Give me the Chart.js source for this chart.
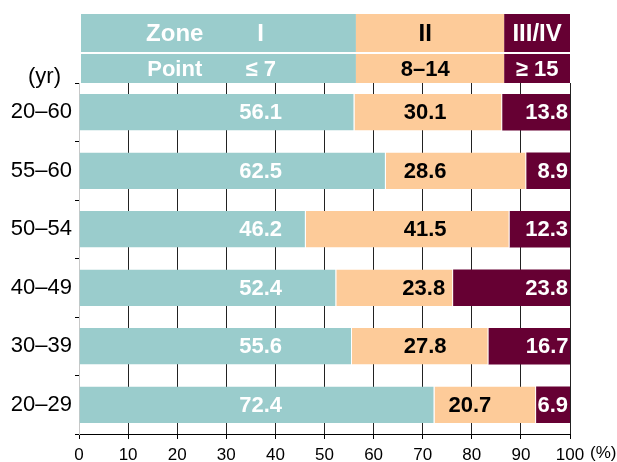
<!DOCTYPE html>
<html>
<head>
<meta charset="utf-8">
<script src="https://cdn.jsdelivr.net/npm/chart.js@4.4.1/dist/chart.umd.min.js"></script>
<style>
  html, body { margin: 0; padding: 0; background: #fff; }
  #wrap { width: 617px; height: 462px; }
</style>
</head>
<body>
<div id="wrap"><canvas id="zoneChart" width="617" height="462"></canvas></div>
<script>
// age groups (top to bottom)
const categories = ["20–60", "55–60", "50–54", "40–49", "30–39", "20–29"];
// share of each zone, %
const zoneI = [56.1, 62.5, 46.2, 52.4, 55.6, 72.4];
const zoneII = [30.1, 28.6, 41.5, 23.8, 27.8, 20.7];
const zoneIIIIV = [13.8, 8.9, 12.3, 23.8, 16.7, 6.9];

// header bands
const zoneNames = ["I", "II", "III/IV"];
const pointRanges = ["≤ 7", "8–14", "≥ 15"];
const zoneBounds = [56.4, 86.6, 100]; // right edge of each header band, %
const labelAnchors = [37, 70.5, 93.3]; // column where zone labels sit, %
const rowTitleAnchor = 19.5;

const xMin = 0, xMax = 100, xStep = 10;

const colors = ["#9acccc", "#fdcb99", "#660033"];
const textColors = ["#ffffff", "#000000", "#ffffff"];
const FONT = '"Liberation Sans", Arial, Helvetica, sans-serif';

// header rows above the plot
const headerPlugin = {
  id: "zoneHeader",
  afterDraw(chart) {
    const ctx = chart.ctx;
    const xs = chart.scales.x;
    const top = chart.chartArea.top;
    const left = xs.getPixelForValue(0) + 2;
    const rows = [
      { y: top - 69, h: 38, title: "Zone", items: zoneNames, size: 24 },
      { y: top - 29, h: 29, title: "Point", items: pointRanges, size: 22 },
    ];
    ctx.save();
    rows.forEach((row) => {
      let prev = left;
      zoneBounds.forEach((b, i) => {
        const x1 = xs.getPixelForValue(b);
        ctx.fillStyle = colors[i];
        ctx.fillRect(prev, row.y, x1 - prev, row.h);
        prev = x1;
      });
      ctx.font = "bold " + row.size + "px " + FONT;
      ctx.textAlign = "center";
      ctx.textBaseline = "middle";
      const cy = row.y + row.h / 2 + 1;
      ctx.fillStyle = "#fff";
      ctx.fillText(row.title, xs.getPixelForValue(rowTitleAnchor), cy);
      row.items.forEach((t, i) => {
        ctx.fillStyle = textColors[i];
        ctx.fillText(t, xs.getPixelForValue(labelAnchors[i]), cy);
      });
    });

    // (yr) and (%) captions
    ctx.fillStyle = "#000";
    ctx.font = "22px " + FONT;
    ctx.textAlign = "right";
    ctx.textBaseline = "middle";
    ctx.fillText("(yr)", 61, top - 6);
    ctx.font = "17px " + FONT;
    ctx.textAlign = "left";
    ctx.textBaseline = "top";
    ctx.fillText("(%)", xs.getPixelForValue(100) + 20, xs.top + 11);
    ctx.restore();
  },
};

// value labels inside the bar segments
const valuePlugin = {
  id: "segValues",
  afterDatasetsDraw(chart) {
    const ctx = chart.ctx;
    const xs = chart.scales.x;
    ctx.save();
    ctx.font = "bold 22px " + FONT;
    ctx.textAlign = "center";
    ctx.textBaseline = "middle";
    chart.data.datasets.forEach((ds, i) => {
      chart.getDatasetMeta(i).data.forEach((bar, j) => {
        const txt = ds.data[j].toFixed(1);
        const w = ctx.measureText(txt).width;
        const start = Math.min(bar.base, bar.x);
        const end = Math.max(bar.base, bar.x);
        let cx;
        if (i === 2) {
          cx = end - 2 - w / 2;
        } else {
          cx = xs.getPixelForValue(labelAnchors[i]);
          cx = Math.max(cx, start + 14 + w / 2);
          cx = Math.min(cx, end - 8 - w / 2);
        }
        ctx.fillStyle = textColors[i];
        ctx.fillText(txt, cx, bar.y + 1);
      });
    });
    ctx.restore();
  },
};

const sepBorder = { top: 0, right: 1, bottom: 0, left: 0 };

new Chart(document.getElementById("zoneChart"), {
  type: "bar",
  data: {
    labels: categories,
    datasets: [
      { label: "I", data: zoneI, backgroundColor: colors[0], borderColor: "#fff", borderWidth: sepBorder, borderSkipped: false },
      { label: "II", data: zoneII, backgroundColor: colors[1], borderColor: "#fff", borderWidth: sepBorder, borderSkipped: false },
      { label: "III/IV", data: zoneIIIIV, backgroundColor: colors[2], borderWidth: 0 },
    ],
  },
  options: {
    indexAxis: "y",
    responsive: false,
    devicePixelRatio: 1,
    animation: false,
    barPercentage: 0.62,
    categoryPercentage: 1.0,
    layout: { padding: { top: 83, right: 47, bottom: 0, left: 0 } },
    plugins: {
      legend: { display: false },
      tooltip: { enabled: false },
    },
    scales: {
      x: {
        stacked: true,
        min: xMin,
        max: xMax,
        afterFit: (s) => { s.height = 28; },
        ticks: {
          stepSize: xStep,
          color: "#000",
          padding: 6,
          maxRotation: 0,
          font: { family: FONT, size: 17 },
        },
        grid: {
          color: (c) => (c.tick && c.tick.value === 0 ? "#c8c8c8" : "#222"),
          tickColor: "#000",
          lineWidth: 1,
          tickLength: 5,
        },
        border: { color: "#000", width: 1 },
      },
      y: {
        stacked: true,
        afterFit: (s) => { s.width = 79; },
        ticks: {
          color: "#000",
          padding: 3,
          font: { family: FONT, size: 22 },
        },
        grid: {
          drawOnChartArea: false,
          color: "#000",
          tickLength: 4,
        },
        border: { color: "#c8c8c8", width: 1 },
      },
    },
  },
  plugins: [headerPlugin, valuePlugin],
});
</script>
</body>
</html>
